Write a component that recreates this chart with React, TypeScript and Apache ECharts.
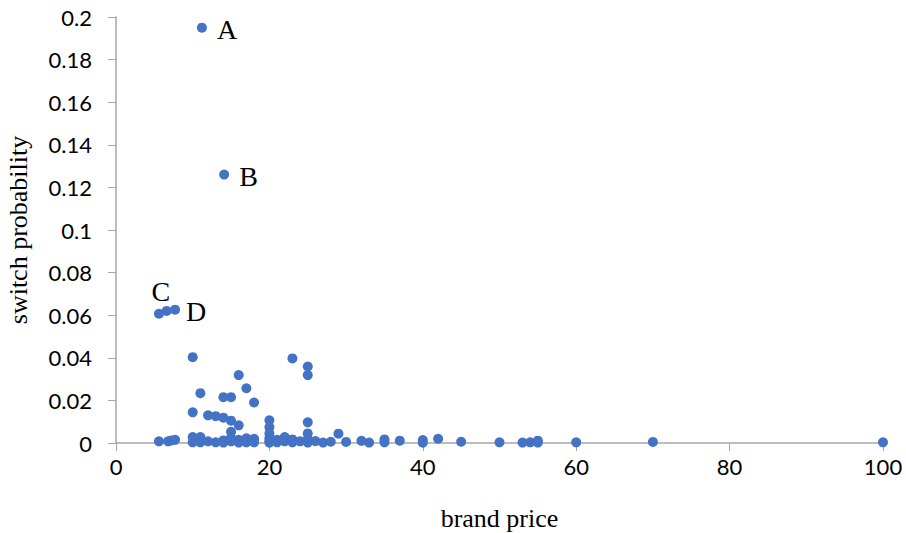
import React, { useEffect, useRef } from "react";
import * as echarts from "echarts";

const xTicks = [0, 20, 40, 60, 80, 100];
const yTicks = [0, 0.02, 0.04, 0.06, 0.08, 0.1, 0.12, 0.14, 0.16, 0.18, 0.2];

const brandPrice: number[] = [
  11.2, 14.1, 5.6, 6.6, 7.7,
  10, 11, 10, 12, 13, 14, 15, 16, 14, 15, 16, 17, 18,
  23, 25, 25, 25, 20, 20, 20, 25, 29, 15,
  5.6, 6.8, 7.2, 7.7, 10, 10, 11, 11, 12, 13, 14, 14, 15, 15, 16, 16, 17, 17, 18, 18,
  20, 20, 20, 21, 21, 22, 22, 23, 23, 24, 25, 25, 26, 27, 28, 30, 32, 33, 35, 35, 37,
  40, 40, 42, 45, 50, 53, 54, 55, 55, 60, 70, 100,
];
const switchProb: number[] = [
  0.195, 0.126, 0.0607, 0.062, 0.0626,
  0.0403, 0.0234, 0.0144, 0.013, 0.0126, 0.0119, 0.0105, 0.0083, 0.0215, 0.0215, 0.0319, 0.0257, 0.019,
  0.0397, 0.0359, 0.0319, 0.0097, 0.0107, 0.0074, 0.0045, 0.0045, 0.0044, 0.0053,
  0.0008, 0.0008, 0.0012, 0.0015, 0.0028, 0.0003, 0.0028, 0.0003, 0.0008, 0.0003, 0.0012, 0.0002, 0.0025, 0.0008, 0.0015, 0.0002, 0.0022, 0.0003, 0.002, 0.0003,
  0.0022, 0.0009, 0.0001, 0.0015, 0.0003, 0.0028, 0.0008, 0.0017, 0.0003, 0.0008, 0.0018, 0.0002, 0.0009, 0.0002, 0.0006, 0.0005, 0.001, 0.0002, 0.0017, 0.0003, 0.0011,
  0.0014, 0.0001, 0.002, 0.0006, 0.0003, 0.0002, 0.0003, 0.0011, 0.0002, 0.0003, 0.0005, 0.0003,
];

// labelled points: index into arrays, label text, placement
const pointLabelIndex = [0, 1, 2, 4];
const pointLabelText = ["A", "B", "C", "D"];
const pointLabelPos = ["right", "right", "top", "right"];

export default function App() {
  const ref = useRef<HTMLDivElement>(null);
  useEffect(() => {
    if (!ref.current) return;
    const chart = echarts.init(ref.current, undefined, { renderer: "svg" });
    const data = brandPrice.map((x, i) => {
      const li = pointLabelIndex.indexOf(i);
      if (li >= 0) {
        const pos = pointLabelPos[li];
        return {
          value: [x, switchProb[i]],
          label: {
            show: true,
            formatter: pointLabelText[li],
            position: pos,
            distance: pos === "top" ? 3 : li === 3 ? 6 : 10,
            offset: pos === "top" ? [2, 0] : [0, 2],
            fontFamily: "Liberation Serif",
            fontSize: 28,
            color: "#000",
          },
        };
      }
      return { value: [x, switchProb[i]] };
    });
    chart.setOption({
      animation: false,
      backgroundColor: "#fff",
      grid: { left: 116, right: 23, top: 17, bottom: 90, containLabel: false, outerBoundsMode: "none" },
      xAxis: {
        type: "value",
        min: 0,
        max: 100,
        interval: 20,
        name: "brand price",
        nameLocation: "middle",
        nameGap: 62,
        nameTextStyle: { fontFamily: "Liberation Serif", fontSize: 26, color: "#000" },
        axisLine: { show: true, lineStyle: { color: "#a6a6a6", width: 1.5 } },
        axisTick: { show: true, length: 8, lineStyle: { color: "#a6a6a6" } },
        axisLabel: {
          fontFamily: "Lato",
          fontSize: 22,
          color: "#000",
          margin: 12,
          formatter: (v: number) => (xTicks.includes(v) ? String(v) : ""),
        },
        splitLine: { show: false },
      },
      yAxis: {
        type: "value",
        min: 0,
        max: 0.2,
        interval: 0.02,
        name: "switch probability",
        nameLocation: "middle",
        nameGap: 85,
        nameTextStyle: { fontFamily: "Liberation Serif", fontSize: 26, color: "#000" },
        axisLine: { show: true, lineStyle: { color: "#a6a6a6", width: 1.5 } },
        axisTick: { show: true, length: 8, lineStyle: { color: "#a6a6a6" } },
        axisLabel: {
          fontFamily: "Lato",
          fontSize: 22,
          color: "#000",
          margin: 24,
          formatter: (v: number) => {
            const t = yTicks.find((y) => Math.abs(y - v) < 1e-9);
            return t === undefined ? "" : String(Number(t.toFixed(2)));
          },
        },
        splitLine: { show: false },
      },
      series: [
        {
          type: "scatter",
          symbol: "circle",
          symbolSize: 10,
          itemStyle: { color: "#4472C4", opacity: 1 },
          data,
        },
      ],
    });
    return () => chart.dispose();
  }, []);
  return <div ref={ref} style={{ width: 906, height: 533, position: "absolute", left: 0, top: 0 }} />;
}
